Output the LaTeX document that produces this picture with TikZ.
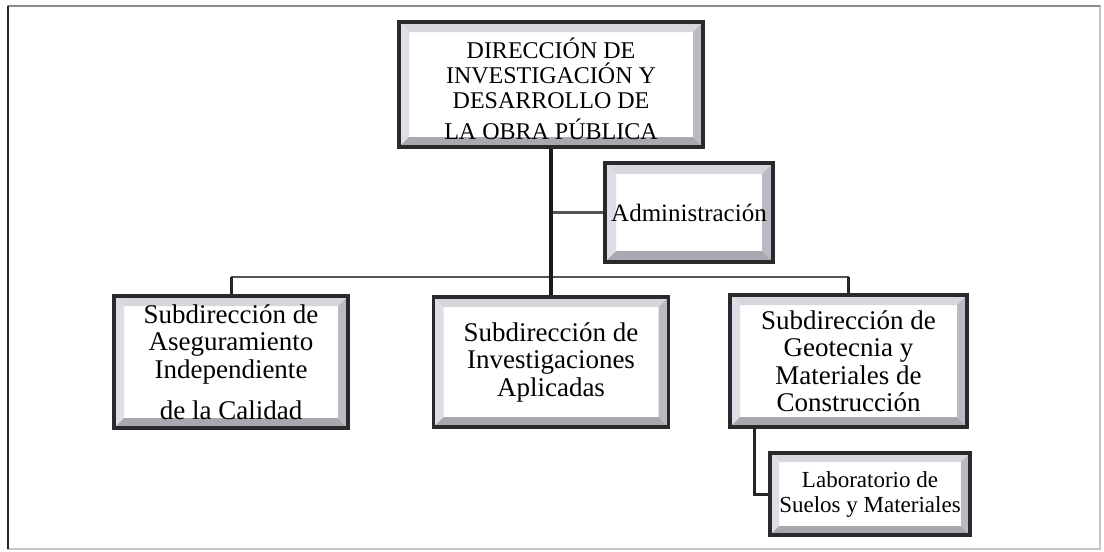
\documentclass[tikz,border=0pt]{standalone}
\usepackage{fontspec}
\setmainfont{Liberation Serif}
\definecolor{bord}{HTML}{2A2A2C}
\definecolor{bevtop}{HTML}{D6D6DC}
\definecolor{bevleft}{HTML}{DEDEE6}
\definecolor{bevbot}{HTML}{A8A8B0}
\definecolor{bevright}{HTML}{BABAC2}
\definecolor{conn}{HTML}{555558}
\definecolor{framecol}{HTML}{8A8A92}
\tikzset{
  bev/.store in=\bevw, bev=10pt,
  bevbox/.style={draw=bord, line width=3.2pt, fill=white, inner sep=0pt, align=center,
    font=\fontsize{27}{27.5}\selectfont,
    path picture={
      \path (path picture bounding box.north west) coordinate (pA)
            (path picture bounding box.north east) coordinate (pB)
            (path picture bounding box.south east) coordinate (pC)
            (path picture bounding box.south west) coordinate (pD);
      \fill[bevtop] (pA) -- (pB) -- ([xshift=-\bevw,yshift=-\bevw]pB) -- ([xshift=\bevw,yshift=-\bevw]pA) -- cycle;
      \fill[bevleft] (pA) -- ([xshift=\bevw,yshift=-\bevw]pA) -- ([xshift=\bevw,yshift=\bevw]pD) -- (pD) -- cycle;
      \fill[bevbot] (pD) -- ([xshift=\bevw,yshift=\bevw]pD) -- ([xshift=-\bevw,yshift=\bevw]pC) -- (pC) -- cycle;
      \fill[bevright] (pB) -- (pC) -- ([xshift=-\bevw,yshift=\bevw]pC) -- ([xshift=-\bevw,yshift=-\bevw]pB) -- cycle;
    }},
  mainline/.style={draw=black!90, line width=4pt},
  busline/.style={draw=conn, line width=2.6pt},
  dropline/.style={draw=black!85, line width=3pt},
}
\begin{document}
\begin{tikzpicture}[x=1pt,y=-1pt]
\useasboundingbox (0,0) rectangle (1104,552);
\fill[white] (0,0) rectangle (1104,552);
% frame
\draw[framecol!50, line width=1.2pt] (8,6) rectangle (1100,549);
\draw[framecol, line width=1.6pt] (8,6) -- (1100,6);
\draw[black!85, line width=2pt] (8,6) -- (8,549);

% nodes
\node[bevbox, minimum width=304pt, minimum height=125pt, font=\fontsize{24}{25}\selectfont]
  (dir) at (551,84.5) {\rule{0pt}{30pt}DIRECCIÓN DE\\INVESTIGACIÓN Y\\DESARROLLO DE\\[6pt]LA OBRA PÚBLICA};
\node[bevbox, bev=11pt, minimum width=168pt, minimum height=99pt, font=\fontsize{25}{26}\selectfont] (adm) at (689,212.5) {Administración};
\node[bevbox, minimum width=234pt, minimum height=132pt] (lft) at (231,362)
  {Subdirección de\\Aseguramiento\\Independiente\\[14pt]de la Calidad};
\node[bevbox, minimum width=235pt, minimum height=130pt] (mid) at (551,362)
  {Subdirección de\\Investigaciones\\Aplicadas};
\node[bevbox, minimum width=237pt, minimum height=132pt] (rgt) at (848.5,361)
  {Subdirección de\\Geotecnia y\\Materiales de\\Construcción};
\node[bevbox, bev=9pt, minimum width=200pt, minimum height=82pt, font=\fontsize{23}{25}\selectfont] (lab) at (870,494)
  {Laboratorio de\\Suelos y Materiales};

% connectors
\coordinate (bus) at (551,277);
\draw[busline] (dir.south |- adm.west) -- (adm.west);
\draw[busline] (lft.north |- bus) -- (rgt.north |- bus);
\draw[mainline] (dir.south) -- (mid.north);
\draw[dropline] (lft.north |- bus) -- (lft.north);
\draw[dropline] (rgt.north |- bus) -- (rgt.north);
\draw[dropline] ([xshift=26pt]rgt.south west) |- (lab.west);
\end{tikzpicture}
\end{document}
